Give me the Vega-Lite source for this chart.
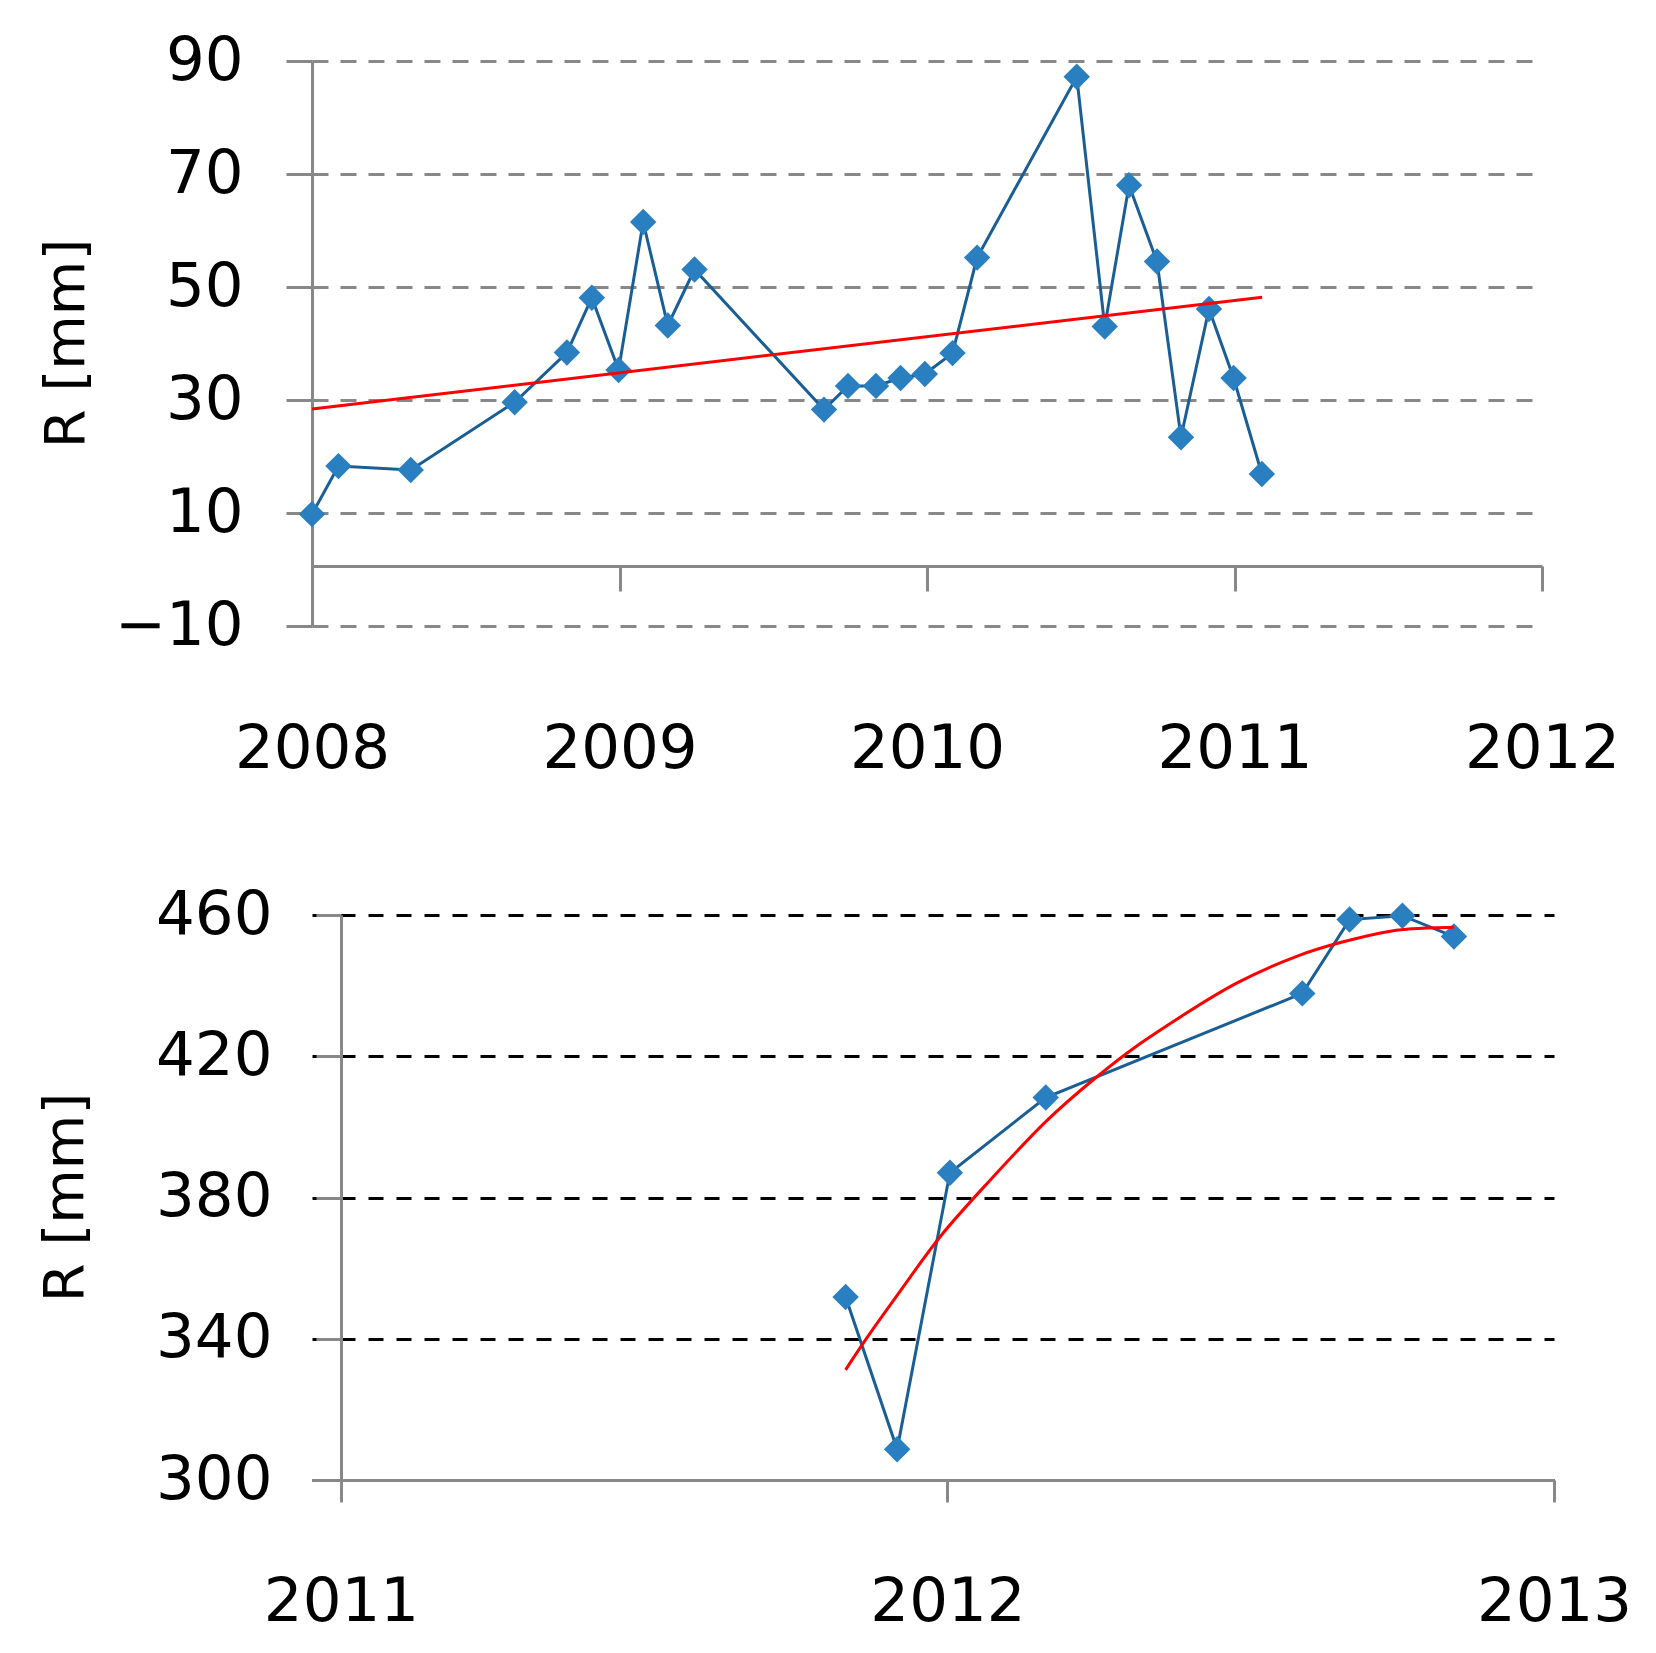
{
  "$schema": "https://vega.github.io/schema/vega-lite/v6.json",
  "background": "white",
  "padding": {"left": 37, "top": 30, "right": 10, "bottom": 10},
  "config": {
    "font": "DejaVu Sans",
    "view": {"stroke": null},
    "axis": {
      "domainColor": "#888888", "domainWidth": 3,
      "tickColor": "#888888", "tickWidth": 3,
      "labelColor": "black", "labelFontSize": 61, "labelFont": "DejaVu Sans",
      "titleColor": "black", "titleFont": "DejaVu Sans", "titleFontSize": 56, "titleFontWeight": "normal",
      "labelOverlap": false, "labelFlush": false
    }
  },
  "spacing": 105,
  "vconcat": [
    {
      "width": 1230,
      "height": 565,
      "encoding": {
        "x": {"field": "t", "type": "quantitative",
          "scale": {"domain": [2008, 2012], "nice": false, "zero": false},
          "axis": {"values": [2008, 2009, 2010, 2011, 2012], "tickCount": 20, "format": "d", "title": null, "grid": false,
            "offset": -60, "tickSize": 25, "labelPadding": 128}},
        "y": {"field": "R", "type": "quantitative",
          "scale": {"domain": [-10, 90], "nice": false, "zero": false},
          "axis": {"values": [-10, 10, 30, 50, 70, 90], "tickCount": 20, "title": "R [mm]", "grid": true,
            "gridColor": "#888888", "gridDash": [16, 12], "gridWidth": 3,
            "tickSize": 26, "labelPadding": 43,
            "titleX": -246, "titleY": 282, "titleAngle": -90, "titleAlign": "center", "titleBaseline": "middle"}}
      },
      "layer": [
        {
          "data": {"values": [
            {"t": 2008.0, "R": 9.8},
            {"t": 2008.086, "R": 18.3},
            {"t": 2008.321, "R": 17.6},
            {"t": 2008.659, "R": 29.6},
            {"t": 2008.829, "R": 38.4},
            {"t": 2008.91, "R": 48.1},
            {"t": 2008.997, "R": 35.3},
            {"t": 2009.077, "R": 61.5},
            {"t": 2009.157, "R": 43.2},
            {"t": 2009.244, "R": 53.1},
            {"t": 2009.665, "R": 28.3},
            {"t": 2009.743, "R": 32.5},
            {"t": 2009.834, "R": 32.5},
            {"t": 2009.914, "R": 33.9},
            {"t": 2009.993, "R": 34.6},
            {"t": 2010.083, "R": 38.3},
            {"t": 2010.163, "R": 55.2},
            {"t": 2010.487, "R": 87.2},
            {"t": 2010.578, "R": 43.0},
            {"t": 2010.657, "R": 68.0},
            {"t": 2010.748, "R": 54.5},
            {"t": 2010.826, "R": 23.4},
            {"t": 2010.917, "R": 46.1},
            {"t": 2010.997, "R": 33.9},
            {"t": 2011.089, "R": 16.9}
          ]},
          "layer": [
            {"mark": {"type": "line", "color": "#1A5E96", "strokeWidth": 3}},
            {"mark": {"type": "point", "shape": "diamond", "filled": true, "size": 700, "color": "#2A7FC0", "opacity": 1}}
          ]
        },
        {
          "data": {"values": [
            {"t": 2008.0, "R": 28.4},
            {"t": 2011.09, "R": 48.2}
          ]},
          "mark": {"type": "line", "color": "#FF0000", "strokeWidth": 3}
        }
      ]
    },
    {
      "width": 1242,
      "height": 565,
      "encoding": {
        "x": {"field": "t", "type": "quantitative",
          "scale": {"domain": [2010.9522, 2013], "nice": false, "zero": false},
          "axis": {"tickCount": 2, "tickMinStep": 1, "format": "d", "title": null, "grid": false,
            "tickSize": 22, "labelPadding": 70}},
        "y": {"field": "R", "type": "quantitative",
          "scale": {"domain": [300, 460], "nice": false, "zero": false},
          "axis": {"values": [300, 340, 380, 420, 460], "tickCount": 20, "title": "R [mm]", "grid": true,
            "gridColor": "black", "gridDash": [15, 13], "gridWidth": 3,
            "offset": -29, "tickSize": 25, "labelPadding": 44,
            "titleX": -276, "titleY": 282, "titleAngle": -90, "titleAlign": "center", "titleBaseline": "middle"}}
      },
      "layer": [
        {
          "data": {"values": [
            {"t": 2011.832, "R": 351.8},
            {"t": 2011.917, "R": 308.7},
            {"t": 2012.004, "R": 387.0},
            {"t": 2012.162, "R": 408.3},
            {"t": 2012.585, "R": 437.8},
            {"t": 2012.663, "R": 458.7},
            {"t": 2012.75, "R": 459.8},
            {"t": 2012.835, "R": 453.9}
          ]},
          "layer": [
            {"mark": {"type": "line", "color": "#1A5E96", "strokeWidth": 3}},
            {"mark": {"type": "point", "shape": "diamond", "filled": true, "size": 700, "color": "#2A7FC0", "opacity": 1}}
          ]
        },
        {
          "data": {"values": [
            {"t": 2011.832, "R": 331.2},
            {"t": 2011.87, "R": 341.2},
            {"t": 2011.928, "R": 354.8},
            {"t": 2011.987, "R": 369.4},
            {"t": 2012.063, "R": 383.5},
            {"t": 2012.164, "R": 402.5},
            {"t": 2012.248, "R": 414.5},
            {"t": 2012.307, "R": 422.6},
            {"t": 2012.39, "R": 431.8},
            {"t": 2012.474, "R": 441.0},
            {"t": 2012.584, "R": 449.2},
            {"t": 2012.651, "R": 452.4},
            {"t": 2012.718, "R": 455.2},
            {"t": 2012.76, "R": 456.2},
            {"t": 2012.835, "R": 456.5}
          ]},
          "mark": {"type": "line", "color": "#FF0000", "strokeWidth": 3, "interpolate": "basis"}
        }
      ]
    }
  ]
}
